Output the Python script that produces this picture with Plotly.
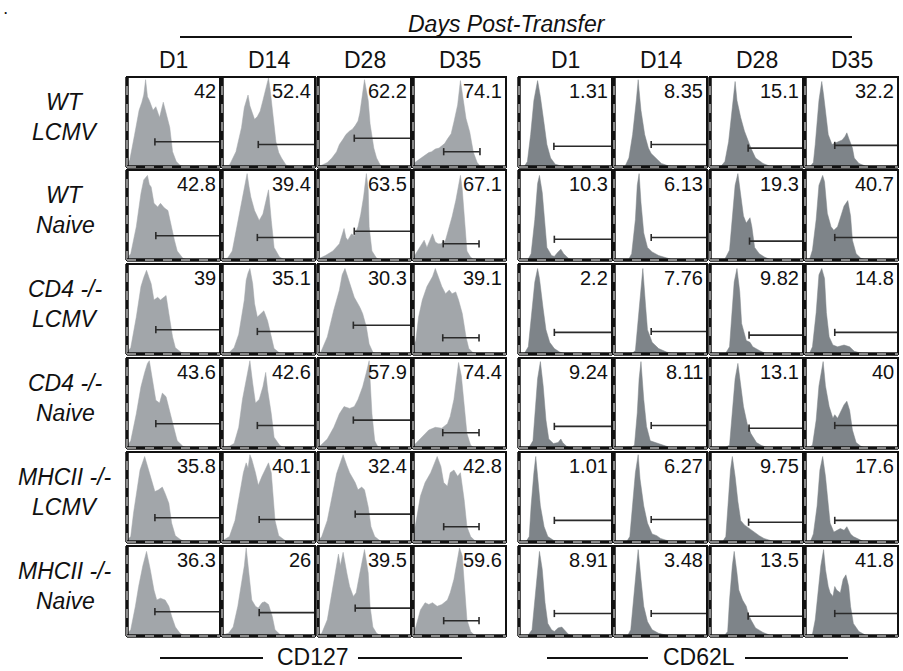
import plotly.graph_objects as go

# ---------------- data ----------------
DAYS = ["D1", "D14", "D28", "D35"]
ROW_LINE1 = ["WT", "WT", "CD4 -/-", "CD4 -/-", "MHCII -/-", "MHCII -/-"]
ROW_LINE2 = ["LCMV", "Naive", "LCMV", "Naive", "LCMV", "Naive"]
MARKERS = ["CD127", "CD62L"]
TITLE = "Days Post-Transfer"

pct_cd127 = [["42", "52.4", "62.2", "74.1"],
             ["42.8", "39.4", "63.5", "67.1"],
             ["39", "35.1", "30.3", "39.1"],
             ["43.6", "42.6", "57.9", "74.4"],
             ["35.8", "40.1", "32.4", "42.8"],
             ["36.3", "26", "39.5", "59.6"]]
pct_cd62l = [["1.31", "8.35", "15.1", "32.2"],
             ["10.3", "6.13", "19.3", "40.7"],
             ["2.2", "7.76", "9.82", "14.8"],
             ["9.24", "8.11", "13.1", "40"],
             ["1.01", "6.27", "9.75", "17.6"],
             ["8.91", "3.48", "13.5", "41.8"]]

# gates: (start, end, level) in % of panel
gate_cd127 = [[(30, 100, 28), (39, 100, 25), (39, 100, 32), (33, 72, 17)],
              [(31, 100, 27), (38, 100, 25), (39, 100, 32), (32.5, 71, 18)],
              [(31, 100, 27), (38, 100, 25), (38, 100, 32), (32, 71, 18)],
              [(31, 100, 27), (38, 100, 25), (38, 100, 31), (32, 71, 17)],
              [(30, 100, 27), (40, 100, 25), (40, 100, 31), (33, 71, 17)],
              [(30, 100, 27), (40, 100, 26), (40, 100, 31), (33, 71, 17)]]
gate_cd62l = [[(37.5, 100, 23), (40, 100, 25), (41, 100, 21), (32, 100, 24)],
              [(38, 100, 23), (40, 100, 25), (42.5, 100, 21), (32, 100, 25)],
              [(38, 100, 24), (40, 100, 25), (42, 100, 21), (32, 100, 24)],
              [(38, 100, 24), (40, 100, 25), (42, 100, 22), (32, 100, 25)],
              [(38, 100, 24), (40, 100, 25), (41.5, 100, 22), (32, 100, 24)],
              [(38, 100, 25), (40, 100, 25), (41, 100, 22), (32, 100, 25)]]

# histogram outlines: (fluorescence %, count %)
cd127_wt_lcmv = [
    [(0,2),(3,8),(8,35),(13,63),(16,72),(18,80),(20,97),(22,78),(24,74),(28,63),(31,67),(35,55),(39,72),(42,59),(46,44),(49,17),(53,6),(57,2),(62,0),(100,0)],
    [(0,1),(8,2),(15,17),(21,44),(24,66),(26,72),(28,80),(30,68),(33,60),(35,53),(38,56),(41,62),(44,74),(47,85),(50,99),(52,84),(55,55),(58,28),(61,16),(64,10),(69,2),(74,0),(100,0)],
    [(0,1),(4,2),(10,5),(15,10),(20,17),(23,25),(27,31),(30,36),(34,40),(37,42),(40,46),(43,51),(45,60),(47,74),(50,97),(52,85),(54,74),(56,48),(60,21),(63,10),(67,2),(71,0),(100,0)],
    [(0,2),(2,5),(6,8),(9,10),(13,13),(17,16),(20,17),(24,20),(28,21),(31,24),(34,26),(37,31),(41,37),(44,50),(48,69),(51,96),(53,80),(54,73),(57,54),(61,39),(65,16),(69,5),(72,1),(76,0),(100,0)]]
cd62l_wt_lcmv = [
    [(0,0),(6,1),(9,6),(12.5,36),(16,74),(18,86),(20,96),(22,84),(23,78),(27,48),(30,25),(34,10),(39,3),(46,1),(55,0),(100,0)],
    [(0,0),(12,1),(16,10),(20,36),(24,74),(26,97),(27,85),(29,63),(33,36),(37,21),(40,15),(44,11),(48,8),(51,4),(59,1),(65,0),(100,0)],
    [(0,0),(12,1),(16,6),(20,28),(24,66),(27,95),(29,74),(33,55),(37,40),(40,32),(44,21),(49,10),(57,4),(64,1),(70,0),(100,0)],
    [(0,0),(6,1),(9,5),(11,25),(15,74),(18,95),(20,80),(22,63),(25,36),(29,25),(33,27),(36,28),(40,30),(43,34),(45,38),(47,32),(51,21),(53,10),(58,4),(65,1),(70,0),(100,0)]]

cd127_wt_naive = [
    [(0,2),(4,7),(10,37),(15,74),(18,89),(22,94),(24,84),(26,81),(29,63),(33,59),(36,63),(40,58),(44,55),(47,40),(51,22),(54,10),(60,2),(65,0),(100,0)],
    [(0,1),(6,2),(11,10),(16,37),(22,70),(25,85),(27,96),(29,82),(31,70),(35,55),(40,44),(44,51),(47,66),(50,78),(53,44),(56,14),(62,3),(68,0),(100,0)],
    [(0,1),(8,5),(16,10),(23,18),(28,35),(30,25),(32,22),(36,29),(39,27),(43,37),(46,51),(49,70),(52,96),(54,78),(55,37),(58,10),(63,2),(68,0),(100,0)],
    [(0,2),(3,7),(8,14),(12,22),(15,14),(18,22),(21,29),(24,20),(27,18),(30,18),(35,22),(39,37),(42,48),(46,66),(49,85),(51,94),(53,78),(56,37),(58,10),(62,3),(66,0),(100,0)]]
cd62l_wt_naive = [
    [(0,0),(10,1),(13,7),(17,45),(20,85),(22,94),(25,75),(28,37),(30,14),(35,5),(38,4),(42,9),(45,12),(48,7),(53,2),(58,0),(100,0)],
    [(0,0),(16,1),(19,7),(23,45),(25,83),(27,96),(29,64),(32,30),(36,14),(41,9),(48,5),(57,2),(64,0),(100,0)],
    [(0,0),(16,1),(21,11),(24,45),(27,83),(30,96),(33,71),(36,49),(39,41),(43,47),(45,37),(48,14),(53,7),(59,3),(66,0),(100,0)],
    [(0,0),(5,1),(8,11),(12,45),(15,83),(19,94),(21,87),(24,52),(28,37),(31,33),(35,37),(39,49),(42,60),(46,66),(49,49),(51,22),(55,7),(60,2),(66,0),(100,0)]]

cd127_cd4_lcmv = [
    [(0,2),(4,7),(10,41),(15,75),(18,85),(21,93),(24,84),(26,78),(29,60),(33,63),(36,60),(42,65),(45,45),(49,19),(52,7),(58,2),(63,0),(100,0)],
    [(0,1),(8,2),(13,7),(18,22),(24,60),(26,82),(28,90),(30,95),(33,78),(35,56),(38,41),(42,45),(45,48),(49,37),(53,19),(56,6),(62,1),(66,0),(100,0)],
    [(0,1),(3,2),(10,19),(17,49),(23,71),(26,88),(29,95),(34,78),(39,63),(45,52),(48,45),(52,30),(55,11),(59,2),(63,0),(100,0)],
    [(0,8),(3,15),(6,41),(10,60),(15,75),(21,86),(24,95),(28,82),(31,75),(35,67),(39,71),(42,67),(46,69),(49,60),(53,45),(57,19),(60,6),(64,2),(68,0),(100,0)]]
cd62l_cd4_lcmv = [
    [(0,0),(6,1),(10,8),(13,42),(17,80),(20,95),(22,84),(26,50),(29,27),(33,13),(38,6),(44,2),(50,0),(100,0)],
    [(0,0),(20,1),(23,4),(26,38),(29,73),(31,95),(34,53),(36,27),(41,13),(48,6),(57,2),(64,0),(100,0)],
    [(0,0),(17,1),(21,8),(24,46),(26,80),(29,95),(32,69),(34,34),(39,15),(43,13),(46,8),(53,4),(59,1),(64,0),(100,0)],
    [(0,0),(5,1),(8,8),(12,46),(15,88),(18,95),(21,84),(23,46),(26,19),(30,10),(35,8),(42,10),(48,8),(53,3),(60,1),(65,0),(100,0)]]

cd127_cd4_naive = [
    [(0,2),(4,8),(10,38),(15,68),(19,84),(22,94),(24,97),(27,76),(31,53),(35,50),(38,61),(42,57),(47,38),(51,20),(54,8),(60,2),(65,0),(100,0)],
    [(0,1),(8,2),(13,5),(18,23),(22,54),(27,79),(30,97),(33,72),(36,50),(40,54),(44,68),(47,84),(49,65),(53,38),(56,12),(62,3),(67,0),(100,0)],
    [(0,1),(3,3),(10,10),(17,23),(23,38),(28,46),(34,44),(39,46),(43,54),(48,68),(52,84),(55,97),(56,76),(58,38),(61,8),(64,2),(68,0),(100,0)],
    [(0,2),(3,5),(10,12),(17,20),(24,23),(31,22),(37,27),(40,35),(44,54),(47,76),(49,95),(52,80),(55,46),(58,16),(62,3),(66,0),(100,0)]]
cd62l_cd4_naive = [
    [(0,0),(11,1),(15,8),(18,46),(20,77),(23,96),(26,69),(29,31),(32,10),(37,5),(42,6),(45,10),(47,6),(51,2),(56,0),(100,0)],
    [(0,0),(19,1),(22,3),(25,39),(27,77),(29,96),(32,54),(35,24),(39,8),(47,5),(52,3),(57,1),(62,0),(100,0)],
    [(0,0),(17,1),(21,3),(24,39),(27,77),(30,94),(33,69),(36,46),(40,27),(44,16),(50,6),(55,3),(60,1),(64,0),(100,0)],
    [(0,0),(5,1),(8,3),(12,31),(15,69),(19.5,96),(22,69),(26,46),(30,33),(32,37),(35,33),(39,42),(42,48),(45,52),(48,42),(51,20),(55,6),(60,2),(65,0),(100,0)]]

cd127_mhc_lcmv = [
    [(0,2),(4,6),(7,32),(11,58),(14,80),(19,95),(23,80),(27,65),(30,56),(34,58),(38,61),(41,54),(45,43),(48,21),(52,7),(57,3),(62,0),(100,0)],
    [(0,1),(8,6),(14,24),(19,54),(23,77),(26,88),(28,82),(30,97),(32,92),(36,77),(39,63),(43,73),(46,80),(50,88),(53,77),(55,51),(57,24),(61,7),(66,3),(70,0),(100,0)],
    [(0,1),(4,6),(10,24),(15,51),(20,76),(24,88),(27,97),(31,85),(34,77),(40,66),(43,58),(47,61),(50,58),(54,39),(57,17),(61,6),(66,2),(70,0),(100,0)],
    [(0,6),(3,21),(8,51),(13,66),(19,77),(22,84),(26,95),(30,84),(33,66),(37,62),(40,77),(44,80),(48,73),(51,77),(55,47),(58,17),(62,6),(66,2),(70,0),(100,0)]]
cd62l_mhc_lcmv = [
    [(0,0),(8,1),(11,6),(13,40),(16,77),(18,95),(20,73),(23,40),(27,17),(31,6),(37,2),(44,0),(100,0)],
    [(0,0),(14,1),(17,6),(20,40),(23,77),(26,97),(28,70),(32,40),(36,21),(41,9),(46,7),(50,4),(55,2),(62,0),(100,0)],
    [(0,0),(14,1),(17,6),(20,49),(22,80),(24,95),(27,73),(30,45),(33,24),(37,19),(42,15),(48,11),(53,7),(58,4),(64,2),(70,0),(100,0)],
    [(0,0),(6,1),(9,9),(13,40),(16,80),(19,95),(22,73),(25,40),(27,21),(31,11),(34,13),(38,15),(42,13),(45,17),(49,9),(52,6),(58,3),(64,0),(100,0)]]

cd127_mhc_naive = [
    [(0,2),(4,7),(9,33),(12.5,55),(17,78),(21,94),(25,74),(29,51),(32,40),(36,42),(41,40),(45,33),(48,22),(52,10),(57,3),(62,0),(100,0)],
    [(0,1),(7,3),(12,10),(17,33),(21,59),(24,78),(26,98),(29,70),(32,40),(36,33),(39,31),(43,37),(46,38),(50,35),(54,22),(57,7),(63,1),(67,0),(100,0)],
    [(0,1),(4,3),(10,18),(15,48),(18,70),(22,91),(24,78),(27,93),(31,70),(34,55),(38,44),(41,48),(45,70),(49,89),(50,96),(54,70),(56,33),(59,10),(63,3),(68,0),(100,0)],
    [(0,4),(3,10),(8,29),(13,37),(17,35),(21,37),(26,33),(31,35),(37,40),(40,48),(44,63),(47,81),(50,98),(53,89),(56,51),(58,18),(62,5),(66,1),(70,0),(100,0)]]
cd62l_mhc_naive = [
    [(0,0),(10,1),(14,7),(17,40),(20,78),(22,94),(25,74),(28,37),(31,14),(35,7),(38,5),(42,9),(46,10),(49,7),(53,2),(58,0),(100,0)],
    [(0,0),(15,1),(18,7),(21,40),(24,78),(26,96),(29,63),(32,33),(36,16),(41,7),(48,3),(55,1),(60,0),(100,0)],
    [(0,0),(16,1),(19,5),(21,40),(24,78),(26,94),(29,70),(31,51),(35,40),(39,33),(41,25),(44,18),(49,9),(57,4),(64,1),(68,0),(100,0)],
    [(0,0),(8,2),(11,18),(14,48),(17,78),(20,96),(22,74),(25,55),(27,48),(30,44),(32,55),(34,51),(38,48),(41,63),(44,68),(47,55),(49,33),(52,14),(58,5),(65,1),(70,0),(100,0)]]

HIST_CD127 = [cd127_wt_lcmv, cd127_wt_naive, cd127_cd4_lcmv, cd127_cd4_naive, cd127_mhc_lcmv, cd127_mhc_naive]
HIST_CD62L = [cd62l_wt_lcmv, cd62l_wt_naive, cd62l_cd4_lcmv, cd62l_cd4_naive, cd62l_mhc_lcmv, cd62l_mhc_naive]

# ---------------- layout geometry (pixels) ----------------
W, H = 903, 671
COL_LEFT = [127, 222, 318, 413, 519, 614, 710, 805]
ROW_TOP = [77, 170, 264, 358, 452, 546]
PW, PH = 93, 90
FONT = "Liberation Sans, Arial, Helvetica, sans-serif"
FILL = ["#A2A6AA", "#7E8489"]


def px(x):
    return x / W


def py(y):
    return 1 - y / H


fig = go.Figure()
layout = {}
shapes = []
annotations = []

for r in range(6):
    for c in range(8):
        k = r * 8 + c + 1
        sfx = "" if k == 1 else str(k)
        m = 0 if c < 4 else 1
        d = c % 4
        hist = (HIST_CD127 if m == 0 else HIST_CD62L)[r][d]
        gate = (gate_cd127 if m == 0 else gate_cd62l)[r][d]
        pct = (pct_cd127 if m == 0 else pct_cd62l)[r][d]

        x0p, x1p = px(COL_LEFT[c]), px(COL_LEFT[c] + PW)
        y1p, y0p = py(ROW_TOP[r]), py(ROW_TOP[r] + PH)
        layout["xaxis" + sfx] = dict(domain=[x0p, x1p], range=[0, 100], visible=False,
                                     fixedrange=True, anchor="y" + sfx)
        layout["yaxis" + sfx] = dict(domain=[y0p, y1p], range=[0, 100], visible=False,
                                     fixedrange=True, anchor="x" + sfx)

        fig.add_trace(go.Scatter(
            x=[p[0] for p in hist], y=[p[1] for p in hist],
            xaxis="x" + sfx, yaxis="y" + sfx, mode="lines",
            fill="tozeroy", fillcolor=FILL[m],
            line=dict(color=FILL[m], width=0.5), hoverinfo="skip", showlegend=False))

        g0, g1, gy = gate
        cap = 4
        fig.add_trace(go.Scatter(
            x=[g0, g0, None, g0, g1, None, g1, g1],
            y=[gy - cap, gy + cap, None, gy, gy, None, gy - cap, gy + cap],
            xaxis="x" + sfx, yaxis="y" + sfx, mode="lines",
            line=dict(color="#2a2a2a", width=1.6), hoverinfo="skip", showlegend=False))

        annotations.append(dict(text=pct, xref="x" + sfx + " domain", yref="y" + sfx + " domain",
                                x=0.975, y=0.99, xanchor="right", yanchor="top", showarrow=False,
                                font=dict(family=FONT, size=20, color="#111")))

        # panel frame
        shapes.append(dict(type="rect", xref="paper", yref="paper", x0=x0p, x1=x1p, y0=y0p, y1=y1p,
                           line=dict(color="#111", width=2)))
        for (ax0, ax1, ay0, ay1) in [(x0p, x0p, y0p, y1p), (x0p, x1p, y0p, y0p)]:
            shapes.append(dict(type="line", xref="paper", yref="paper", x0=ax0, x1=ax1, y0=ay0, y1=ay1,
                               line=dict(color="#111", width=3.5)))
            shapes.append(dict(type="line", xref="paper", yref="paper", x0=ax0, x1=ax1, y0=ay0, y1=ay1,
                               line=dict(color="white", width=1, dash="dash")))

# column headers
for c in range(8):
    annotations.append(dict(text=DAYS[c % 4], xref="paper", yref="paper",
                            x=px(COL_LEFT[c] + PW / 2), y=py(60), xanchor="center", yanchor="middle",
                            showarrow=False, font=dict(family=FONT, size=23, color="#111")))

# row labels
for r in range(6):
    annotations.append(dict(text="<i>" + ROW_LINE1[r] + "</i>", xref="paper", yref="paper",
                            x=px(65), y=py(ROW_TOP[r] + 25), xanchor="center", yanchor="middle",
                            showarrow=False, font=dict(family=FONT, size=23, color="#111")))
    annotations.append(dict(text="<i>" + ROW_LINE2[r] + "</i>", xref="paper", yref="paper",
                            x=px(65), y=py(ROW_TOP[r] + 55), xanchor="center", yanchor="middle",
                            showarrow=False, font=dict(family=FONT, size=23, color="#111")))

# title with underline
annotations.append(dict(text="<i>" + TITLE + "</i>", xref="paper", yref="paper",
                        x=px(507), y=py(24), xanchor="center", yanchor="middle",
                        showarrow=False, font=dict(family=FONT, size=23, color="#111")))
shapes.append(dict(type="line", xref="paper", yref="paper", x0=px(180), x1=px(852), y0=py(37), y1=py(37),
                   line=dict(color="#111", width=2)))

# bottom marker labels with side rules
for (label, cx, l0, l1, r0, r1) in [(MARKERS[0], 313, 160, 263, 358, 462),
                                     (MARKERS[1], 699, 547, 648, 745, 848)]:
    annotations.append(dict(text=label, xref="paper", yref="paper", x=px(cx), y=py(657),
                            xanchor="center", yanchor="middle", showarrow=False,
                            font=dict(family=FONT, size=23, color="#111")))
    for (a, b) in [(l0, l1), (r0, r1)]:
        shapes.append(dict(type="line", xref="paper", yref="paper", x0=px(a), x1=px(b),
                           y0=py(658), y1=py(658), line=dict(color="#111", width=2)))

# stray dot at top-left
annotations.append(dict(text="<b>.</b>", xref="paper", yref="paper", x=px(2), y=py(1), xanchor="left",
                        yanchor="top", showarrow=False, font=dict(family=FONT, size=12, color="#111")))

fig.update_layout(width=W, height=H, autosize=False, margin=dict(l=0, r=0, t=0, b=0),
                  paper_bgcolor="white", plot_bgcolor="white", showlegend=False,
                  shapes=shapes, annotations=annotations, **layout)

fig.write_html("out.html", config={"displayModeBar": False})
